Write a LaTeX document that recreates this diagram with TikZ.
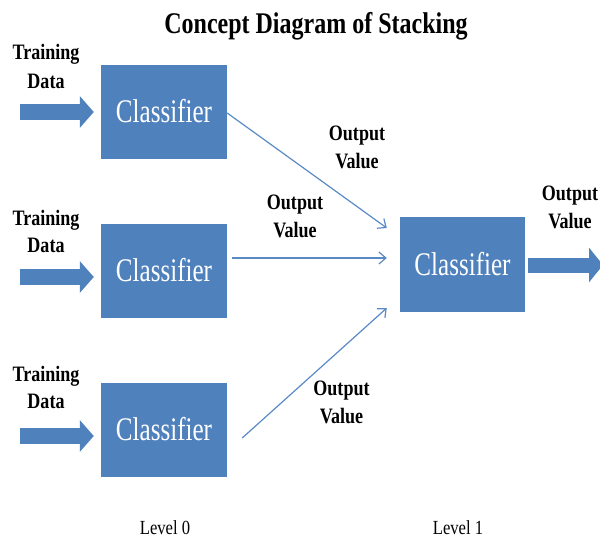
\documentclass[tikz,border=0pt]{standalone}
\usepackage{fontspec}
\setmainfont{Liberation Serif}
\usetikzlibrary{arrows.meta,calc}
\definecolor{boxblue}{HTML}{4F81BD}
\definecolor{linkblue}{HTML}{5A8AC6}
% horizontally condensed text
\newcommand{\narrow}[2]{\scalebox{#1}[1]{#2}}
\begin{document}
\begin{tikzpicture}[x=1pt,y=-1pt,
  clsbox/.style={fill=boxblue, minimum width=126pt, minimum height=94pt,
    inner sep=0pt, text=white, font=\fontsize{33}{33}\selectfont},
  lbl/.style={font=\bfseries\fontsize{22}{22}\selectfont, anchor=base, inner sep=0pt},
  lvl/.style={font=\fontsize{20}{20}\selectfont, anchor=base, inner sep=0pt},
  blockarrow/.style={draw=boxblue, line width=16pt, line cap=butt,
    -{Triangle[length=14pt,width=31pt]}},
  link/.style={draw=linkblue, line width=1.2pt,
    -{Straight Barb[length=7pt,width=12pt]}}]
\useasboundingbox (0,0) rectangle (600,539);

% title
\node[anchor=base, inner sep=0pt, font=\bfseries\fontsize{30}{30}\selectfont]
  (title) at (316,33) {\narrow{0.8}{Concept Diagram of Stacking}};

% level 0 classifiers
\node[clsbox] (c1) at (164,111.5) {\narrow{0.76}{Classifier}};
\node[clsbox] (c2) at (164,270.5) {\narrow{0.76}{Classifier}};
\node[clsbox] (c3) at (164,429.5) {\narrow{0.76}{Classifier}};
% level 1 classifier
\node[clsbox, minimum width=125pt, minimum height=95pt] (out) at (462.5,264.5) {\narrow{0.76}{Classifier}};

% training data inputs
\node[lbl] (tr1a) at (46,59) {\narrow{0.82}{Training}};
\node[lbl] (tr1b) at (46,88) {\narrow{0.82}{Data}};
\node[lbl] (tr2a) at (46,225) {\narrow{0.82}{Training}};
\node[lbl] (tr2b) at (46,252) {\narrow{0.82}{Data}};
\node[lbl] (tr3a) at (46,381) {\narrow{0.82}{Training}};
\node[lbl] (tr3b) at (46,408) {\narrow{0.82}{Data}};

\coordinate (in1) at (20,112);
\coordinate (in2) at (20,277);
\coordinate (in3) at (20,436);
\draw[blockarrow, shorten >=7pt] (in1) -- (in1 -| c1.west);
\draw[blockarrow, shorten >=7pt] (in2) -- (in2 -| c2.west);
\draw[blockarrow, shorten >=7pt] (in3) -- (in3 -| c3.west);

% level 0 outputs feeding level 1
\draw[link] ($(c1.east)+(0,1.5)$) -- ($(out.west)+(-13,-36.5)$);
\draw[link] ($(c2.east)+(5,-12.5)$) -- ($(out.west)+(-13,-6.5)$);
\draw[link] ($(c3.east)+(15,8.5)$) -- ($(out.west)+(-13,43.5)$);

\node[lbl] (o1a) at (357,140) {\narrow{0.82}{Output}};
\node[lbl] (o1b) at (357,168) {\narrow{0.82}{Value}};
\node[lbl] (o2a) at (295,209) {\narrow{0.82}{Output}};
\node[lbl] (o2b) at (295,237) {\narrow{0.82}{Value}};
\node[lbl] (o3a) at (341.5,395) {\narrow{0.82}{Output}};
\node[lbl] (o3b) at (341.5,423) {\narrow{0.82}{Value}};

% final output
\coordinate (outend) at (603,265);
\draw[draw=boxblue, line width=15pt, line cap=butt, shorten <=3pt,
  -{Triangle[length=14pt,width=34pt]}] (out.east |- outend) -- (outend);
\node[lbl] (o4a) at (570,200) {\narrow{0.82}{Output}};
\node[lbl] (o4b) at (570,228) {\narrow{0.82}{Value}};

% level captions
\node[lvl] (lv0) at (165,534) {\narrow{0.83}{Level 0}};
\node[lvl] (lv1) at (458,534) {\narrow{0.83}{Level 1}};
\end{tikzpicture}
\end{document}
